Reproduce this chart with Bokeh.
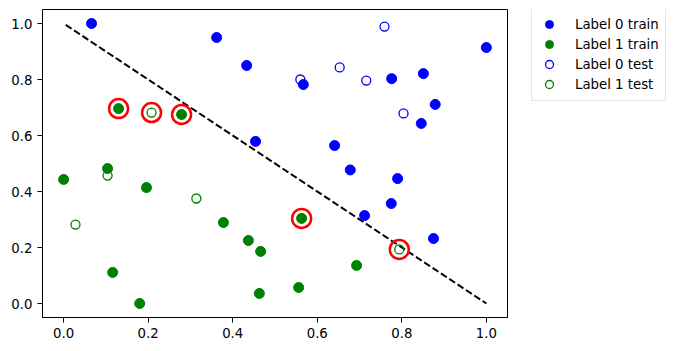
from bokeh.plotting import figure
from bokeh.layouts import row
from bokeh.models import Range1d, FixedTicker, PrintfTickFormatter, Legend, LegendItem
from bokeh.embed import file_html
from bokeh.resources import INLINE

# Data
l0_train_x = [0.066, 0.362, 0.433, 0.567, 0.454, 0.641, 0.678, 0.712, 0.79, 0.775, 0.875, 1.0, 0.851, 0.776, 0.879, 0.846]
l0_train_y = [1.0, 0.95, 0.85, 0.782, 0.579, 0.564, 0.477, 0.314, 0.446, 0.357, 0.232, 0.914, 0.821, 0.803, 0.711, 0.643]
l1_train_x = [0.130, 0.279, 0.104, 0.0, 0.196, 0.378, 0.437, 0.466, 0.116, 0.180, 0.463, 0.563, 0.693, 0.556]
l1_train_y = [0.696, 0.675, 0.482, 0.443, 0.414, 0.289, 0.225, 0.186, 0.111, 0.0, 0.036, 0.304, 0.136, 0.057]
l0_test_x = [0.759, 0.653, 0.560, 0.716, 0.804]
l0_test_y = [0.989, 0.843, 0.80, 0.796, 0.679]
l1_test_x = [0.208, 0.104, 0.314, 0.028, 0.794]
l1_test_y = [0.682, 0.457, 0.375, 0.282, 0.193]
miss_x = [0.130, 0.208, 0.279, 0.563, 0.794]
miss_y = [0.696, 0.682, 0.675, 0.304, 0.193]
boundary_x = [0.005, 1.0]
boundary_y = [0.995, 0.0]
ticks = [0.0, 0.2, 0.4, 0.6, 0.8, 1.0]
legend_labels = ["Label 0 train", "Label 1 train", "Label 0 test", "Label 1 test"]

FONT = "DejaVu Sans"
FS = "13.3px"

styles = [
    dict(size=10, fill_color="blue", line_color="blue"),
    dict(size=10, fill_color="green", line_color="green"),
    dict(size=9, fill_color=None, line_color="blue", line_width=1.3),
    dict(size=9, fill_color=None, line_color="green", line_width=1.3),
]

p = figure(width=520, height=351, output_backend="svg", toolbar_location=None,
           x_range=Range1d(-0.05, 1.05), y_range=Range1d(-0.05, 1.05),
           min_border_left=42, min_border_right=13, min_border_top=9, min_border_bottom=34)

p.line(boundary_x, boundary_y, line_color="black", line_dash="7 3", line_width=2)
p.scatter(l0_train_x, l0_train_y, **styles[0])
p.scatter(l1_train_x, l1_train_y, **styles[1])
p.scatter(l0_test_x, l0_test_y, **styles[2])
p.scatter(l1_test_x, l1_test_y, **styles[3])
p.scatter(miss_x, miss_y, size=19, fill_color=None, line_color="red", line_width=2.5)

for ax in (p.xaxis[0], p.yaxis[0]):
    ax.ticker = FixedTicker(ticks=ticks)
    ax.formatter = PrintfTickFormatter(format="%.1f")
    ax.major_label_text_font = FONT
    ax.major_label_text_font_size = FS
    ax.major_label_text_color = "black"
    ax.major_tick_out = 5
    ax.major_tick_in = 0
    ax.minor_tick_out = 0
    ax.minor_tick_in = 0
    ax.axis_line_color = "black"
    ax.major_tick_line_color = "black"

p.xgrid.visible = False
p.ygrid.visible = False
p.outline_line_color = "black"
p.outline_line_alpha = 1
p.outline_line_width = 1

# Legend figure (legend-only renderers placed outside the visible range)
q = figure(width=157, height=351, output_backend="svg", toolbar_location=None, title=None,
           x_range=Range1d(0, 1), y_range=Range1d(0, 1),
           min_border_left=4, min_border_right=0, min_border_top=0, min_border_bottom=0)
q.axis.visible = False
q.xgrid.visible = False
q.ygrid.visible = False
q.outline_line_color = None
legend_renderers = [q.scatter([-10], [-10], **s) for s in styles]

legend = Legend(items=[LegendItem(label=lab, renderers=[r]) for lab, r in zip(legend_labels, legend_renderers)],
                location=(7, 216))
legend.label_text_font = FONT
legend.label_text_font_size = FS
legend.label_text_color = "black"
legend.glyph_width = 22
legend.glyph_height = 20
legend.label_height = 20
legend.spacing = 0
legend.padding = 6
legend.label_standoff = 15
legend.margin = 0
legend.border_line_color = "#cccccc"
legend.background_fill_alpha = 0.8
q.add_layout(legend, "center")

layout = row(p, q, spacing=0)
open("out.html", "w").write(file_html(layout, INLINE))
